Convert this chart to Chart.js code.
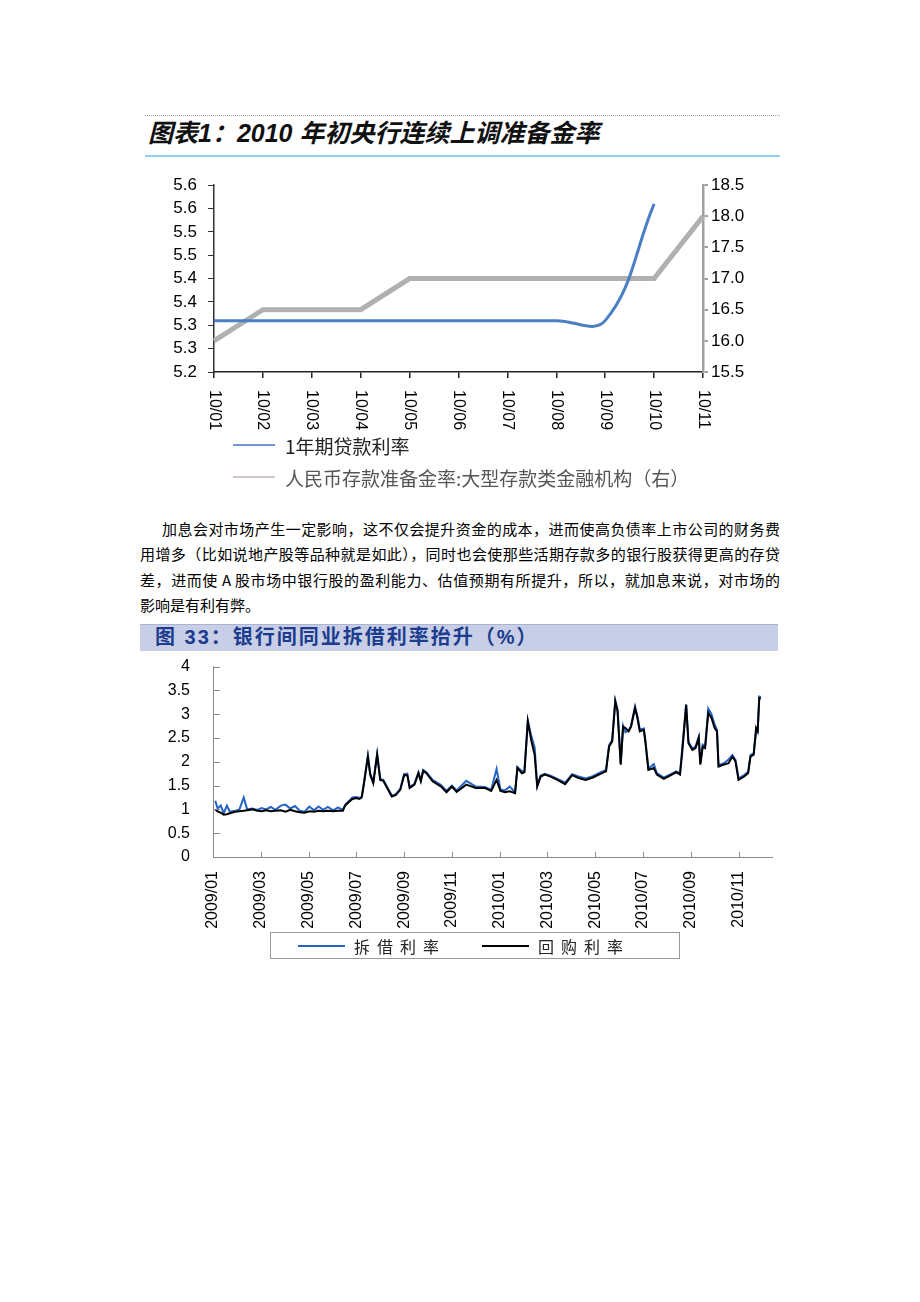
<!DOCTYPE html>
<html>
<head>
<meta charset="utf-8">
<script src="https://cdn.jsdelivr.net/npm/chart.js@4.4.0/dist/chart.umd.min.js"></script>
<style>
  body { margin: 0; background: #fff; width: 920px; height: 1302px; position: relative; overflow: hidden;
         font-family: "Noto Sans CJK SC", sans-serif; }
  .abs { position: absolute; }
  #rule1 { left: 145px; top: 115px; width: 635px; border-top: 1px dotted #a0a0a0; }
  #title1 { left: 148px; top: 116px; font-family: Arial, "Liberation Sans", "Noto Sans CJK SC", sans-serif;
            font-size: 25px; line-height: 34px; font-weight: bold; font-style: italic; color: #111; white-space: nowrap; }
  #blue1 { left: 145px; top: 155px; width: 635px; height: 2px; background: #92cfee; }
  #c1wrap { left: 140px; top: 164px; }
  .leg1 { left: 233px; height: 26px; display: flex; align-items: center; white-space: nowrap; font-size: 19px; }
  .leg1 span.s { display: inline-block; width: 42px; height: 2px; margin-right: 10px; }
  #para { left: 140px; top: 516px; width: 640px; font-size: 15px; line-height: 25.3px; color: #000; }
  #para div { text-align: justify; text-align-last: justify; white-space: nowrap; }
  #para div.last { text-align-last: left; }
  #bar2 { left: 140px; top: 624px; width: 638px; height: 26px; background: #c7cee6; border-top: 1px solid #aab3d3; }
  #title2 { left: 155px; top: 624px; height: 27px; line-height: 27px; font-size: 20px; font-weight: bold;
            letter-spacing: 2px; color: #1c3c8e; white-space: nowrap; font-family: Arial, "Liberation Sans", "Noto Sans CJK SC", sans-serif; }
  #c2wrap { left: 140px; top: 642px; }
  #leg2 { left: 270px; top: 932px; width: 408px; height: 25px; border: 1px solid #9a9a9a; }
  #leg2 .it { position: absolute; top: 0; height: 25px; display: flex; align-items: center; font-size: 16px;
              letter-spacing: 7px; color: #222; white-space: nowrap; }
  #leg2 .it span.s { display: inline-block; width: 47px; height: 2px; margin-right: 9px; }
</style>
</head>
<body>
<div id="rule1" class="abs"></div>
<div id="title1" class="abs">图表1：2010 年初央行连续上调准备金率</div>
<div id="blue1" class="abs"></div>
<div id="c1wrap" class="abs"><canvas id="chart1" width="640" height="286"></canvas></div>
<div class="abs leg1" style="top:432px;color:#222"><span class="s" style="background:#6f99d4"></span>1年期贷款利率</div>
<div class="abs leg1" style="top:464px;color:#555"><span class="s" style="background:#d2c6cb"></span>人民币存款准备金率:大型存款类金融机构（右）</div>

<div id="para" class="abs">
  <div style="text-indent:22px">加息会对市场产生一定影响，这不仅会提升资金的成本，进而使高负债率上市公司的财务费</div>
  <div>用增多（比如说地产股等品种就是如此），同时也会使那些活期存款多的银行股获得更高的存贷</div>
  <div>差，进而使 A 股市场中银行股的盈利能力、估值预期有所提升，所以，就加息来说，对市场的</div>
  <div class="last">影响是有利有弊。</div>
</div>

<div id="bar2" class="abs"></div>
<div id="title2" class="abs">图 33：银行间同业拆借利率抬升（%）</div>
<div id="c2wrap" class="abs"><canvas id="chart2" width="640" height="293"></canvas></div>
<div id="leg2" class="abs">
  <div class="it" style="left:27px"><span class="s" style="background:#2563c4"></span>拆借利率</div>
  <div class="it" style="left:211px"><span class="s" style="background:#000"></span>回购利率</div>
</div>

<script>
// chart 1: 2010 monthly
const months1 = ['10/01', '10/02', '10/03', '10/04', '10/05', '10/06', '10/07', '10/08', '10/09', '10/10', '10/11'];
const loanRate = [5.31, 5.31, 5.31, 5.31, 5.31, 5.31, 5.31, 5.31, 5.31, 5.56, null];
const reserveRatio = [16.0, 16.5, 16.5, 16.5, 17.0, 17.0, 17.0, 17.0, 17.0, 17.0, 18.0];
const leftTicks1 = ['5.2', '5.3', '5.3', '5.4', '5.4', '5.5', '5.5', '5.6', '5.6'];
const rightTicks1 = ['15.5', '16.0', '16.5', '17.0', '17.5', '18.0', '18.5'];

// chart 2: interbank rates
const dates2 = [
  '2009-01-04', '2009-01-07', '2009-01-11', '2009-01-15', '2009-01-19', '2009-01-23', '2009-01-30',
  '2009-02-04', '2009-02-09', '2009-02-13', '2009-02-19', '2009-02-25',
  '2009-03-02', '2009-03-08', '2009-03-14', '2009-03-20', '2009-03-27',
  '2009-04-02', '2009-04-08', '2009-04-14', '2009-04-20', '2009-04-26',
  '2009-05-02', '2009-05-08', '2009-05-14', '2009-05-20', '2009-05-26',
  '2009-06-02', '2009-06-08', '2009-06-14', '2009-06-17', '2009-06-22', '2009-06-26',
  '2009-07-01', '2009-07-05', '2009-07-08', '2009-07-11', '2009-07-16', '2009-07-19', '2009-07-23', '2009-07-28',
  '2009-08-01', '2009-08-05', '2009-08-10', '2009-08-16', '2009-08-21', '2009-08-27',
  '2009-09-01', '2009-09-05', '2009-09-08', '2009-09-14', '2009-09-19', '2009-09-22', '2009-09-25', '2009-09-29',
  '2009-10-07', '2009-10-18', '2009-10-25', '2009-11-01', '2009-11-07', '2009-11-19',
  '2009-12-01', '2009-12-13', '2009-12-21', '2009-12-28',
  '2010-01-02', '2010-01-08', '2010-01-14', '2010-01-21', '2010-01-24', '2010-01-30',
  '2010-02-02', '2010-02-06', '2010-02-10', '2010-02-14', '2010-02-17', '2010-02-21', '2010-02-26',
  '2010-03-05', '2010-03-14', '2010-03-24', '2010-04-02', '2010-04-10', '2010-04-19', '2010-04-28',
  '2010-05-07', '2010-05-15', '2010-05-19', '2010-05-23', '2010-05-27', '2010-05-30',
  '2010-06-03', '2010-06-06', '2010-06-09', '2010-06-13', '2010-06-16', '2010-06-21', '2010-06-24', '2010-06-27',
  '2010-07-02', '2010-07-04', '2010-07-08', '2010-07-15', '2010-07-19', '2010-07-28',
  '2010-08-05', '2010-08-13', '2010-08-18', '2010-08-21', '2010-08-26', '2010-08-29',
  '2010-09-03', '2010-09-07', '2010-09-11', '2010-09-13', '2010-09-16', '2010-09-19', '2010-09-23', '2010-09-27',
  '2010-10-01', '2010-10-04', '2010-10-06', '2010-10-13', '2010-10-19', '2010-10-24', '2010-10-28',
  '2010-11-01', '2010-11-08', '2010-11-13', '2010-11-16', '2010-11-20', '2010-11-23', '2010-11-25', '2010-11-27', '2010-11-29'
];
const chibor = [
  1.18, 1.02, 1.08, 0.92, 1.08, 0.95, 0.97,
  1.00, 1.25, 1.00, 1.02, 0.99,
  1.03, 1.00, 1.05, 0.99, 1.08,
  1.10, 1.02, 1.07, 0.97, 0.95,
  1.06, 0.98, 1.06, 0.99, 1.05,
  0.98, 1.04, 0.99, 1.10, 1.18, 1.25,
  1.26, 1.24, 1.27, 1.58, 2.13, 1.76, 1.58, 2.17,
  1.64, 1.62, 1.47, 1.29, 1.32, 1.43,
  1.74, 1.75, 1.47, 1.54, 1.78, 1.61, 1.83, 1.78,
  1.62, 1.51, 1.39, 1.50, 1.40, 1.60,
  1.48, 1.47, 1.41, 1.85,
  1.42, 1.40, 1.48, 1.36, 1.89, 1.80,
  1.80, 2.87, 2.55, 2.30, 1.50, 1.71, 1.75,
  1.71, 1.64, 1.56, 1.74, 1.69, 1.65, 1.70,
  1.77, 1.83, 2.35, 2.45, 3.29, 3.10,
  1.97, 2.76, 2.62, 2.66, 2.76, 3.16, 2.96, 2.68,
  2.70, 2.47, 1.86, 1.95, 1.76, 1.67,
  1.73, 1.80, 1.76, 2.30, 3.21, 2.42,
  2.28, 2.32, 2.53, 1.98, 2.36, 2.33, 3.12, 3.00,
  2.78, 2.67, 1.93, 1.97, 2.05, 2.14, 2.04,
  1.65, 1.72, 1.79, 2.14, 2.18, 2.60, 2.62, 3.37, 3.36
];
const repo = [
  1.00, 0.96, 0.93, 0.89, 0.90, 0.92, 0.95,
  0.96, 0.97, 0.98, 1.00, 0.97,
  0.96, 0.98, 0.96, 0.97, 0.98,
  0.95, 0.99, 0.96, 0.94, 0.93,
  0.96, 0.95, 0.97, 0.96, 0.97,
  0.96, 0.97, 0.97, 1.08, 1.16, 1.22,
  1.24, 1.22, 1.25, 1.55, 2.11, 1.73, 1.55, 2.15,
  1.62, 1.60, 1.45, 1.27, 1.30, 1.41,
  1.72, 1.72, 1.45, 1.52, 1.76, 1.59, 1.81, 1.76,
  1.59, 1.48, 1.36, 1.48, 1.37, 1.52,
  1.45, 1.45, 1.39, 1.62,
  1.39, 1.36, 1.38, 1.34, 1.87, 1.76,
  1.78, 2.85, 2.45, 2.15, 1.48, 1.69, 1.73,
  1.69, 1.62, 1.53, 1.72, 1.66, 1.62, 1.67,
  1.74, 1.80, 2.32, 2.43, 3.27, 3.06,
  1.94, 2.74, 2.71, 2.64, 2.74, 3.13, 2.92, 2.64,
  2.67, 2.43, 1.83, 1.87, 1.73, 1.64,
  1.71, 1.78, 1.73, 2.22, 3.19, 2.39,
  2.25, 2.29, 2.50, 1.94, 2.32, 2.29, 3.03, 2.92,
  2.71, 2.64, 1.90, 1.94, 1.97, 2.11, 2.01,
  1.62, 1.69, 1.76, 2.11, 2.15, 2.71, 2.64, 3.34, 3.33
];
const xTicks2 = ['2009/01', '2009/03', '2009/05', '2009/07', '2009/09', '2009/11',
                 '2010/01', '2010/03', '2010/05', '2010/07', '2010/09', '2010/11'];
const yTicks2 = ['0', '0.5', '1', '1.5', '2', '2.5', '3', '3.5', '4'];

const tickFont = 'Arial, "Liberation Sans", sans-serif';
Chart.defaults.font.family = tickFont;

// months since 2009/01, fractional
function monthPos(s) {
  const p = s.split(/[-\/]/).map(Number);
  const d = p[2] || 1;
  const dim = new Date(p[0], p[1], 0).getDate();
  return (p[0] - 2009) * 12 + (p[1] - 1) + (d - 1) / dim;
}

// x labels of chart 1 turned clockwise
const clockwiseLabels = {
  id: 'clockwiseLabels',
  afterDraw(chart) {
    const xs = chart.scales.x, ctx = chart.ctx;
    ctx.save();
    ctx.font = '16px ' + tickFont;
    ctx.fillStyle = '#000';
    ctx.textAlign = 'left';
    ctx.textBaseline = 'middle';
    months1.forEach((m, i) => {
      ctx.save();
      ctx.translate(xs.getPixelForTick(i), xs.top + 18);
      ctx.rotate(Math.PI / 2);
      ctx.fillText(m, 0, 0);
      ctx.restore();
    });
    ctx.restore();
  }
};

new Chart(document.getElementById('chart1'), {
  type: 'line',
  data: {
    labels: months1,
    datasets: [
      { label: '1年期贷款利率', data: loanRate, yAxisID: 'y', borderColor: '#4a7fc4', borderWidth: 3,
        tension: 0.4, pointRadius: 0, clip: false },
      { label: '人民币存款准备金率:大型存款类金融机构（右）', data: reserveRatio, yAxisID: 'y1',
        borderColor: '#b0b0b0', borderWidth: 5, tension: 0, pointRadius: 0, clip: false }
    ]
  },
  options: {
    responsive: false,
    animation: false,
    layout: { padding: 0 },
    plugins: { legend: { display: false }, tooltip: { enabled: false } },
    scales: {
      x: {
        offset: false,
        ticks: { display: false },
        grid: { drawOnChartArea: false, tickLength: 6, color: '#222', lineWidth: 1.5 },
        border: { color: '#222', width: 1.5 },
        afterFit(s) { s.height = 78; }
      },
      y: {
        position: 'left', min: 5.2, max: 5.6,
        ticks: { stepSize: 0.05, autoSkip: false, callback: (v, i) => leftTicks1[i], color: '#000',
                 font: { size: 17 }, padding: 11 },
        grid: { drawOnChartArea: false, tickLength: 6, color: '#333' },
        border: { color: '#333', width: 1.5 },
        afterFit(s) { s.width = 74; }
      },
      y1: {
        position: 'right', min: 15.5, max: 18.5,
        ticks: { stepSize: 0.5, autoSkip: false, callback: (v, i) => rightTicks1[i], color: '#000',
                 font: { size: 17 }, padding: 3 },
        grid: { drawOnChartArea: false, tickLength: 5, color: '#a0a0a0', lineWidth: 2 },
        border: { color: '#a0a0a0', width: 2.5 },
        afterFit(s) { s.width = 77; }
      }
    }
  },
  plugins: [clockwiseLabels]
});

// tick marks pointing into the plot on chart 2
const innerTicks = {
  id: 'innerTicks',
  afterDraw(chart) {
    const { ctx, scales: { x, y } } = chart;
    ctx.save();
    ctx.strokeStyle = '#8a8a8a';
    ctx.lineWidth = 1;
    y.ticks.forEach(t => {
      const py = Math.round(y.getPixelForValue(t.value)) + 0.5;
      ctx.beginPath(); ctx.moveTo(x.left, py); ctx.lineTo(x.left + 7, py); ctx.stroke();
    });
    x.ticks.forEach(t => {
      const px = Math.round(x.getPixelForValue(t.value)) + 0.5;
      ctx.beginPath(); ctx.moveTo(px, y.bottom); ctx.lineTo(px, y.bottom - 5); ctx.stroke();
    });
    ctx.restore();
  }
};

new Chart(document.getElementById('chart2'), {
  type: 'line',
  data: {
    datasets: [
      { label: '拆借利率', data: dates2.map((d, i) => ({ x: monthPos(d), y: chibor[i] })),
        borderColor: '#2563c4', borderWidth: 2, pointRadius: 0, tension: 0, order: 1 },
      { label: '回购利率', data: dates2.map((d, i) => ({ x: monthPos(d), y: repo[i] })),
        borderColor: '#000', borderWidth: 2, pointRadius: 0, tension: 0, order: 0 }
    ]
  },
  options: {
    responsive: false,
    animation: false,
    layout: { padding: { top: 0, right: 8, left: 0, bottom: 0 } },
    plugins: { legend: { display: false }, tooltip: { enabled: false } },
    scales: {
      x: {
        type: 'linear', min: 0, max: 23.4,
        afterBuildTicks(s) { s.ticks = xTicks2.map(l => ({ value: monthPos(l) })); },
        ticks: { callback: (v, i) => xTicks2[i], minRotation: 90, maxRotation: 90, autoSkip: false,
                 color: '#000', font: { size: 16 }, padding: 6 },
        grid: { display: false },
        border: { color: '#8a8a8a', width: 1 },
        afterFit(s) { s.height = 78; }
      },
      y: {
        min: 0, max: 4,
        ticks: { stepSize: 0.5, autoSkip: false, callback: (v, i) => yTicks2[i], color: '#000',
                 font: { size: 16 }, padding: 15 },
        grid: { display: false },
        border: { color: '#8a8a8a', width: 1 },
        afterFit(s) { s.width = 73; }
      }
    }
  },
  plugins: [innerTicks]
});
</script>
</body>
</html>
